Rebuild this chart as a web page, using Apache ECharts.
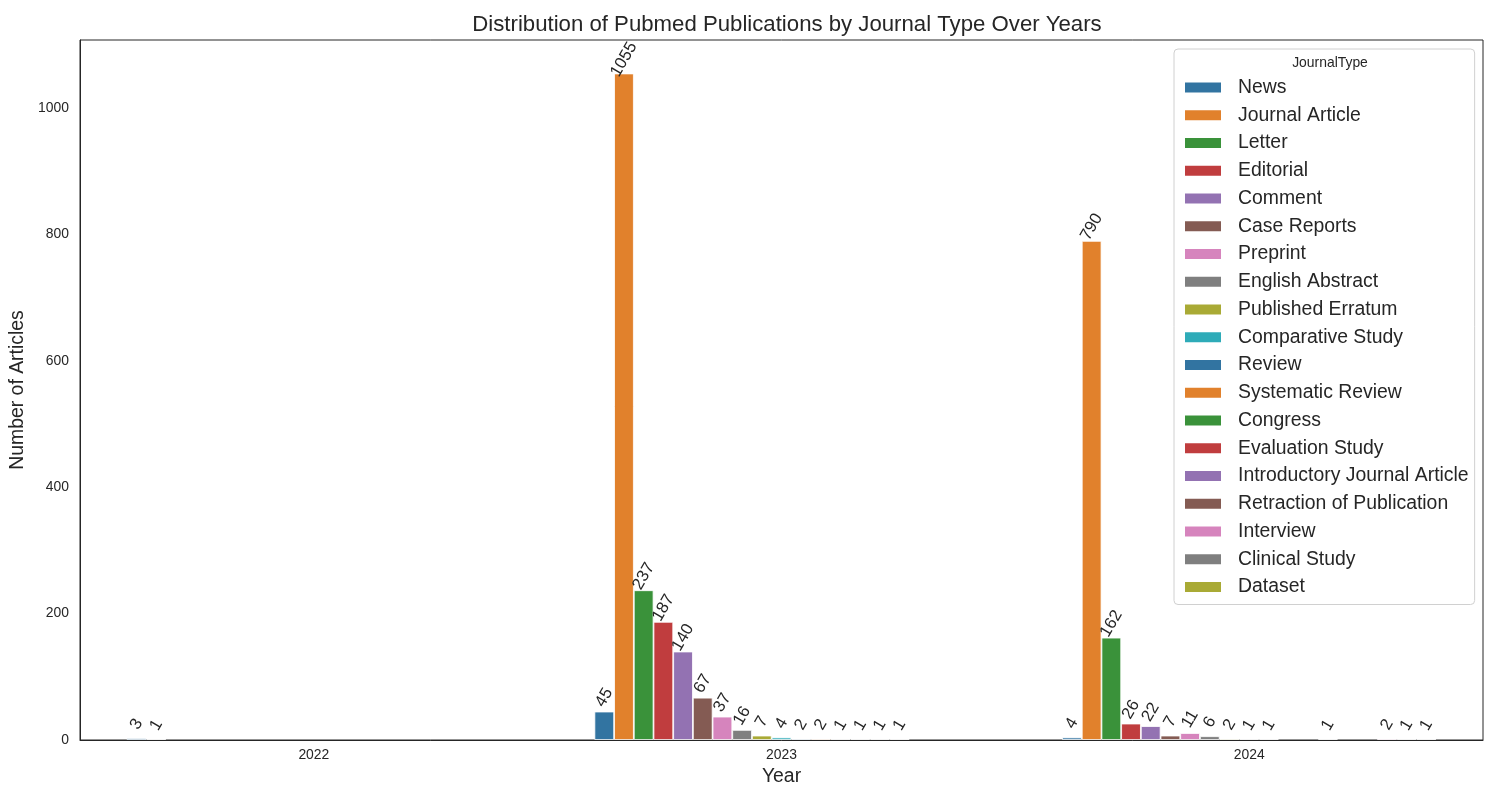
<!DOCTYPE html>
<html>
<head>
<meta charset="utf-8">
<script src="https://cdn.jsdelivr.net/npm/echarts@6/dist/echarts.min.js"></script>
<style>
html,body{margin:0;padding:0;background:#fff;}
#chart{width:1500px;height:800px;}
</style>
</head>
<body>
<div id="chart"></div>
<script>
const years = ["2022", "2023", "2024"];
const journalTypes = ["News","Journal Article","Letter","Editorial","Comment","Case Reports","Preprint","English Abstract","Published Erratum","Comparative Study","Review","Systematic Review","Congress","Evaluation Study","Introductory Journal Article","Retraction of Publication","Interview","Clinical Study","Dataset"];
// values per journal type: [2022, 2023, 2024]; null = no bar
const news = [3, 45, 4];
const journalArticle = [1, 1055, 790];
const letter = [null, 237, 162];
const editorial = [null, 187, 26];
const comment = [null, 140, 22];
const caseReports = [null, 67, 7];
const preprint = [null, 37, 11];
const englishAbstract = [null, 16, 6];
const publishedErratum = [null, 7, 2];
const comparativeStudy = [null, 4, 1];
const review = [null, 2, 1];
const systematicReview = [null, 2, null];
const congress = [null, 1, null];
const evaluationStudy = [null, 1, 1];
const introductoryJournalArticle = [null, 1, null];
const retractionOfPublication = [null, 1, null];
const interview = [null, null, 2];
const clinicalStudy = [null, null, 1];
const dataset = [null, null, 1];
const seriesValues = [news, journalArticle, letter, editorial, comment, caseReports, preprint, englishAbstract, publishedErratum, comparativeStudy, review, systematicReview, congress, evaluationStudy, introductoryJournalArticle, retractionOfPublication, interview, clinicalStudy, dataset];
const yTicks = [0, 200, 400, 600, 800, 1000];

const palette = ["#3274A1","#E1812C","#3A923A","#C03D3E","#9372B2","#845B53","#D684BD","#7F7F7F","#A9AA35","#2EABB8"];
const font = "'Liberation Sans', Arial, sans-serif";
const txt = "#262626";

const chart = echarts.init(document.getElementById('chart'), null, {renderer: 'canvas'});
const series = journalTypes.map((name, i) => ({
  name: name,
  type: 'bar',
  data: seriesValues[i],
  barGap: '0%',
  barCategoryGap: '20%',
  itemStyle: {color: palette[i % 10], borderColor: '#ffffff', borderWidth: 0.8},
  label: {
    show: true,
    position: 'top',
    rotate: 60,
    align: 'center',
    verticalAlign: 'middle',
    distance: 14,
    fontSize: 16.7,
    fontFamily: font,
    color: txt,
    formatter: p => p.value == null ? '' : String(p.value)
  },
  emphasis: {disabled: true},
  animation: false
}));

chart.setOption({
  animation: false,
  backgroundColor: '#ffffff',
  color: palette,
  title: [{
    text: 'Distribution of Pubmed Publications by Journal Type Over Years',
    left: 782, top: 9, textAlign: 'center',
    textStyle: {fontSize: 22.2, fontWeight: 'normal', fontFamily: font, color: txt}
  }, {
    text: 'JournalType',
    left: 1325, top: 51, textAlign: 'center',
    textStyle: {fontSize: 13.9, fontWeight: 'normal', fontFamily: font, color: txt}
  }],
  grid: {left: 80, right: 17, top: 40, bottom: 60, show: true, borderColor: '#262626', borderWidth: 1, containLabel: false},
  legend: {
    orient: 'vertical',
    left: 1174, top: 49,
    padding: [29, 6, 8, 9],
    backgroundColor: 'rgba(255,255,255,0.9)',
    borderColor: '#d0d0d0', borderWidth: 1, borderRadius: 4,
    itemWidth: 38, itemHeight: 12, itemGap: 8.75,
    icon: 'rect',
    textStyle: {fontSize: 19.4, lineHeight: 19, fontFamily: font, color: txt, padding: [0, 0, 0, 11]},
    data: journalTypes
  },
  xAxis: {
    type: 'category',
    data: years,
    z: 5,
    name: 'Year',
    nameLocation: 'middle',
    nameGap: 25,
    nameTextStyle: {fontSize: 19.4, fontFamily: font, color: txt},
    axisLine: {show: true, lineStyle: {color: '#262626', width: 1}},
    axisTick: {show: false},
    axisLabel: {fontSize: 13.9, fontFamily: font, color: txt, margin: 8}
  },
  yAxis: {
    type: 'value',
    min: 0, max: 1108, interval: 200,
    name: 'Number of Articles',
    nameLocation: 'middle',
    nameGap: 41,
    nameTextStyle: {fontSize: 19.4, fontFamily: font, color: txt},
    axisLine: {show: true, lineStyle: {color: '#262626', width: 1}},
    axisTick: {show: false},
    splitLine: {show: false},
    axisLabel: {fontSize: 13.9, fontFamily: font, color: txt, margin: 11,
      formatter: v => yTicks.indexOf(v) >= 0 ? String(v) : ''},
    showMaxLabel: false
  },
  series: series
});
</script>
</body>
</html>
